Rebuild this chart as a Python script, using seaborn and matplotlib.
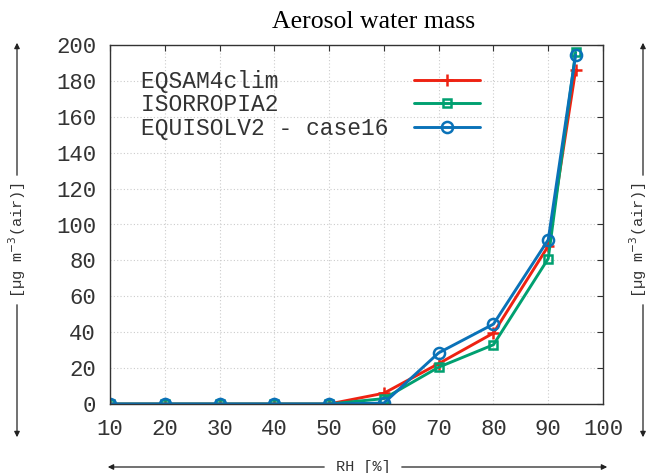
import matplotlib
matplotlib.use("Agg")
import matplotlib.pyplot as plt
import seaborn as sns
import pandas as pd

rh = [10, 20, 30, 40, 50, 60, 70, 80, 90, 95]
eqsam = [0, 0, 0, 0, 0, 6, 22.5, 39.5, 88, 186]
isorropia = [0, 0, 0, 0, 0, 3, 20.5, 33, 81, 196]
equisolv = [0, 0, 0, 0, 0, 0.5, 28.5, 44.5, 91.5, 194.5]
labels = ["EQSAM4clim", "ISORROPIA2", "EQUISOLV2 - case16"]
colors = ["#ee2212", "#00a070", "#0a72b8"]
markers = ["+", "s", "o"]
xticks = [10, 20, 30, 40, 50, 60, 70, 80, 90, 100]
yticks = [0, 20, 40, 60, 80, 100, 120, 140, 160, 180, 200]

sns.set_style("white")
mono = ["Liberation Mono", "DejaVu Sans Mono"]
plt.rcParams["font.family"] = mono

fig = plt.figure(figsize=(6.5, 4.73), dpi=100)
ax = fig.add_axes([110/650, 1-404/473, 493/650, 359/473])

width = max(len(l) for l in labels)
series = [eqsam, isorropia, equisolv]
msizes = [9, 6, 8]
for vals, lab, col, mk, ms in zip(series, labels, colors, markers, msizes):
    df = pd.DataFrame({"RH": rh, "val": vals})
    sns.lineplot(data=df, x="RH", y="val", ax=ax, color=col, marker=mk,
                 markersize=ms, markerfacecolor="none", markeredgecolor=col,
                 markeredgewidth=1.8, linewidth=2.1, label=lab.ljust(width))

ax.set_xlim(10, 100)
ax.set_ylim(0, 200)
ax.set_xticks(xticks)
ax.set_yticks(yticks)
ax.set_xticklabels([str(t) for t in xticks])
ax.set_yticklabels([str(t) for t in yticks])
ax.set_xlabel("")
ax.set_ylabel("")
ax.grid(True, color="#cccccc", linestyle=(0, (1, 2)), linewidth=0.8)
ax.tick_params(direction="in", length=4, width=0.8, color="#333333",
               top=True, right=True, labelsize=16, labelcolor="#333333")
ax.tick_params(axis="x", pad=11)
ax.tick_params(axis="y", pad=10)
for s in ax.spines.values():
    s.set_color("#333333")
    s.set_linewidth(1.0)

leg = ax.legend(markerfirst=False, loc="upper left", frameon=False,
                bbox_to_anchor=(0.03, 0.975), prop={"family": mono, "size": 16.5},
                handlelength=2.9, handletextpad=1.1, labelspacing=0.02,
                borderpad=0.2)
for t in leg.get_texts():
    t.set_color("#333333")

fig.text(374/650, 1-22/473, "Aerosol water mass", ha="center", va="center",
         family="Liberation Serif", fontsize=18.5, color="black")

# side arrows with labels
ylab = "[µg m$^{-3}$(air)]"
for xp, xl in ((17, 17), (643, 638)):
    xf = xp/650
    fig.text(xl/650, 1-240/473, ylab, rotation=90, ha="center", va="center",
             fontsize=11, color="#333333", family=mono)
    ax.annotate("", xy=(xf, 1-40/473), xytext=(xf, 1-178/473), xycoords="figure fraction",
                textcoords="figure fraction",
                arrowprops=dict(arrowstyle="-|>", color="#222222", lw=0.9, mutation_scale=8))
    ax.annotate("", xy=(xf, 1-440/473), xytext=(xf, 1-302/473), xycoords="figure fraction",
                textcoords="figure fraction",
                arrowprops=dict(arrowstyle="-|>", color="#222222", lw=0.9, mutation_scale=8))

yb = 1-467/473
fig.text(363/650, yb, "RH [%]", ha="center", va="center", fontsize=11,
         color="#333333", family=mono)
ax.annotate("", xy=(105/650, yb), xytext=(327/650, yb), xycoords="figure fraction",
            textcoords="figure fraction",
            arrowprops=dict(arrowstyle="-|>", color="#222222", lw=0.9, mutation_scale=8))
ax.annotate("", xy=(610/650, yb), xytext=(399/650, yb), xycoords="figure fraction",
            textcoords="figure fraction",
            arrowprops=dict(arrowstyle="-|>", color="#222222", lw=0.9, mutation_scale=8))

fig.savefig("out.png", dpi=100)
